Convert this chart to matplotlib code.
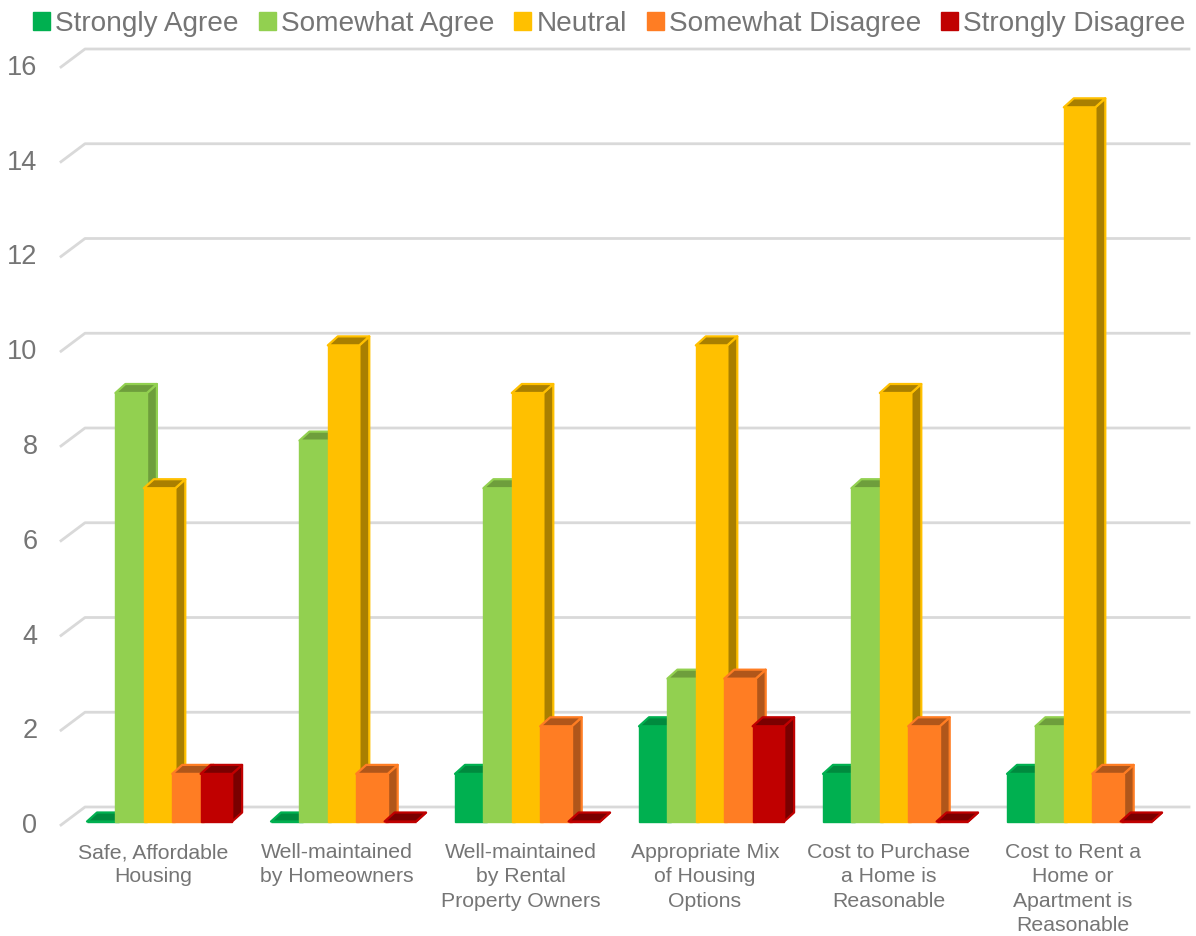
import matplotlib
matplotlib.use("Agg")
import matplotlib.pyplot as plt
from matplotlib.patches import Patch
from matplotlib.transforms import ScaledTranslation
import numpy as np

plt.rcParams['font.family'] = ['Liberation Sans', 'DejaVu Sans']

categories = ["Safe, Affordable\nHousing", "Well-maintained\nby Homeowners",
              "Well-maintained\nby Rental\nProperty Owners", "Appropriate Mix\nof Housing\nOptions",
              "Cost to Purchase\na Home is\nReasonable", "Cost to Rent a\nHome or\nApartment is\nReasonable"]
series_names = ["Strongly Agree", "Somewhat Agree", "Neutral", "Somewhat Disagree", "Strongly Disagree"]
strongly_agree = [0, 0, 1, 2, 1, 1]
somewhat_agree = [9, 8, 7, 3, 7, 2]
neutral = [7, 10, 9, 10, 9, 15]
somewhat_disagree = [1, 1, 2, 3, 2, 1]
strongly_disagree = [1, 0, 0, 2, 0, 0]
y_ticks = [0, 2, 4, 6, 8, 10, 12, 14, 16]

all_values = [strongly_agree, somewhat_agree, neutral, somewhat_disagree, strongly_disagree]
colors = ['#00B050', '#92D050', '#FFC000', '#FF7D23', '#C00000']
dark_colors = ['#008A3E', '#6E9E3C', '#A97F00', '#B0561A', '#7A0000']
grid_color = '#D9D9D9'
text_color = '#757575'

W, H = 1196, 936
fig = plt.figure(figsize=(W / 100, H / 100), dpi=100)
left, right, top, bottom = 61, 1165, 67, 825
ax = fig.add_axes([left / W, 1 - bottom / H, (right - left) / W, (bottom - top) / H])
ax.set_xlim(-0.5, 5.5)
ax.set_ylim(0, 16)

# pixels to data units, the fake 3d is all done with these
px_x = 6 / (right - left)
px_y = 16 / (bottom - top)

# back wall and the diagonal bit on the left side
back_dx, back_dy = 24 * px_x, 18 * px_y
for t in y_ticks:
    ax.plot([-0.5, -0.5 + back_dx, 5.5 + back_dx], [t, t + back_dy, t + back_dy],
            color=grid_color, lw=2.0, clip_on=False, zorder=1)

bar_w = 31.5 * px_x
step = 28.4 * px_x
start = -66 * px_x
lift = 3.5 * px_y
dx, dy = 10 * px_x, 9 * px_y
# bars sit nearer than the wall so they come out a bit taller per unit
bar_scale = 1.005

z = 2
for j, vals in enumerate(all_values):
    xs = np.arange(len(categories)) + start + j * step
    for x, v in zip(xs, vals):
        y0, y1 = lift, lift + v * bar_scale
        # side face
        ax.fill([x + bar_w, x + bar_w + dx, x + bar_w + dx, x + bar_w],
                [y0, y0 + dy, y1 + dy, y1],
                facecolor=dark_colors[j], edgecolor=colors[j], lw=1.6,
                joinstyle='round', clip_on=False, zorder=z)
        # top face
        ax.fill([x, x + dx, x + bar_w + dx, x + bar_w],
                [y1, y1 + dy, y1 + dy, y1],
                facecolor=dark_colors[j], edgecolor=colors[j], lw=1.6,
                joinstyle='round', clip_on=False, zorder=z)
        # front
        ax.bar(x, v * bar_scale, width=bar_w, bottom=y0, align='edge', color=colors[j],
               edgecolor=colors[j], lw=1.0, clip_on=False, zorder=z + 0.5)
        z += 1

ax.set_xticks(range(len(categories)))
ax.set_xticklabels(categories, fontsize=15.3, color=text_color, linespacing=1.36)
ax.set_yticks(y_ticks)
ax.tick_params(axis='x', length=0, pad=13)
ax.tick_params(axis='y', length=0, pad=17, labelsize=19.5, labelcolor=text_color)
# y labels sit 2px higher than the tick
shift = ScaledTranslation(0, 2 / 100, fig.dpi_scale_trans)
for lab in ax.get_yticklabels():
    lab.set_transform(lab.get_transform() + shift)
for s in ax.spines.values():
    s.set_visible(False)

handles = [Patch(facecolor=c, edgecolor=c) for c in colors]
ax.legend(handles, series_names, loc='upper left', bbox_to_anchor=(33 / W, 1 - 11 / H),
          bbox_transform=fig.transFigure, ncol=5, frameon=False, fontsize=20.2,
          labelcolor=text_color, handlelength=0.62, handleheight=0.62,
          handletextpad=0.18, columnspacing=0.7, borderpad=0, borderaxespad=0)

fig.savefig("out.png", dpi=100)
